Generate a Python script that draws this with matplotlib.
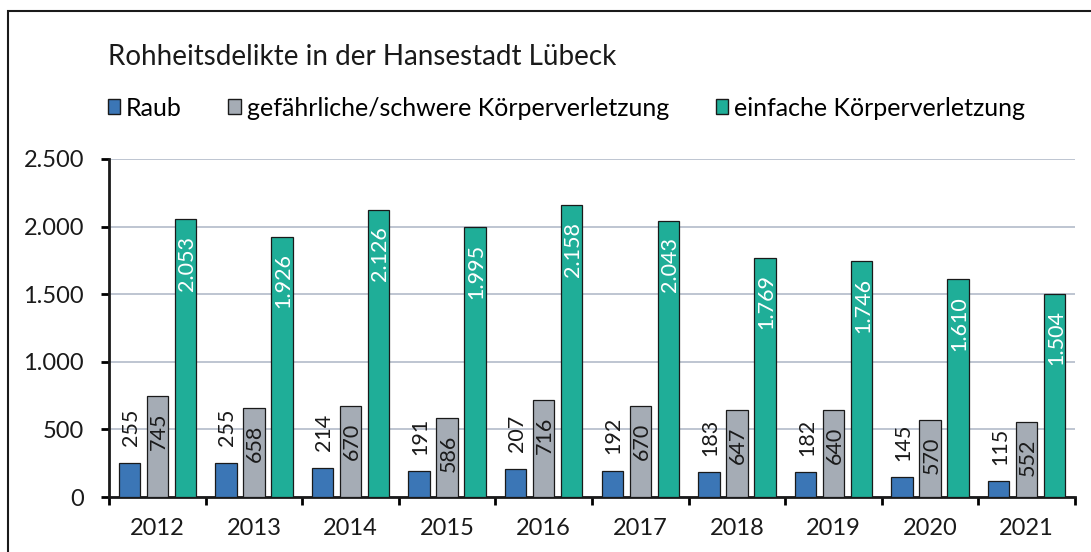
import matplotlib
matplotlib.use('Agg')
import matplotlib.pyplot as plt
import numpy as np
from matplotlib.patches import Rectangle
from matplotlib.ticker import FuncFormatter

years = ['2012', '2013', '2014', '2015', '2016', '2017', '2018', '2019', '2020', '2021']
raub = [255, 255, 214, 191, 207, 192, 183, 182, 145, 115]
koerper_schwer = [745, 658, 670, 586, 716, 670, 647, 640, 570, 552]
koerper_einfach = [2053, 1926, 2126, 1995, 2158, 2043, 1769, 1746, 1610, 1504]
series_names = ['Raub', 'gefährliche/schwere Körperverletzung', 'einfache Körperverletzung']

c_blue = '#3b76b6'
c_grey = '#a5acb5'
c_green = '#1fae98'

font = ['Lato', 'DejaVu Sans']


def de_fmt(v):
    return '{:,}'.format(int(v)).replace(',', '.')


fig = plt.figure(figsize=(10.91, 5.52), dpi=100)
ax = fig.add_axes([109/1091, 1-497/552, (1075-109)/1091, (497-159)/552])

x = np.arange(len(years))
w = 0.22
off = 0.29
ax.bar(x - off, raub, w, color=c_blue, edgecolor='#1a1a1a', linewidth=0.9, zorder=3)
ax.bar(x, koerper_schwer, w, color=c_grey, edgecolor='#1a1a1a', linewidth=0.9, zorder=3)
ax.bar(x + off, koerper_einfach, w, color=c_green, edgecolor='#1a1a1a', linewidth=0.9, zorder=3)

# value labels
lab_size = 15.5
for xi, v in zip(x - off, raub):
    ax.annotate(de_fmt(v), (xi, v), xytext=(1, 12), textcoords='offset points',
                rotation=90, ha='center', va='bottom', fontsize=lab_size,
                family=font, color='#1a1a1a', zorder=4)
for xi, v in zip(x, koerper_schwer):
    ax.annotate(de_fmt(v), (xi, v), xytext=(1, -12), textcoords='offset points',
                rotation=90, ha='center', va='top', fontsize=lab_size,
                family=font, color='#1a1a1a', zorder=4)
for xi, v in zip(x + off, koerper_einfach):
    ax.annotate(de_fmt(v), (xi, v), xytext=(1, -12), textcoords='offset points',
                rotation=90, ha='center', va='top', fontsize=lab_size,
                family=font, color='white', zorder=4)

ax.set_xlim(-0.5, len(years) - 0.5)
ax.set_ylim(0, 2500)
ax.set_yticks(np.arange(0, 2501, 500))
ax.yaxis.set_major_formatter(FuncFormatter(lambda v, p: de_fmt(v)))
ax.set_xticks(x)
ax.set_xticklabels(years)
ax.set_xticks(np.arange(-0.5, len(years)), minor=True)
ax.tick_params(axis='x', which='major', length=0, pad=15, labelsize=17)
ax.tick_params(axis='x', which='minor', length=6, width=2, direction='out')
ax.tick_params(axis='y', length=6, width=2, direction='out', pad=12, labelsize=17)
for lab in ax.get_xticklabels() + ax.get_yticklabels():
    lab.set_family(font)
    lab.set_color('#1a1a1a')

ax.grid(axis='y', color='#b3bbc9', linewidth=1.2, zorder=0)
for s in ['top', 'right']:
    ax.spines[s].set_visible(False)
for s in ['left', 'bottom']:
    ax.spines[s].set_linewidth(2)
    ax.spines[s].set_color('#1a1a1a')

fig.text(108/1091, 1-57/552, 'Rohheitsdelikte in der Hansestadt Lübeck', fontsize=20,
         family=font, va='center', ha='left', color='#1a1a1a')

handles = [Rectangle((0, 0), 1, 1, facecolor=c, edgecolor='#1a1a1a', linewidth=1)
           for c in (c_blue, c_grey, c_green)]
leg = fig.legend(handles, series_names, loc='center left', bbox_to_anchor=(100/1091, 1-108/552),
                 ncol=3, frameon=False, handlelength=0.5, handleheight=0.55, handletextpad=0.25,
                 columnspacing=1.85, borderaxespad=0, borderpad=0.3,
                 prop={'family': font, 'size': 18})

# outer frame of the chart area
fig.patches.append(Rectangle((8/1091, -0.1), 1.2, 1-11/552+0.1, transform=fig.transFigure,
                             fill=False, edgecolor='#1a1a1a', linewidth=1.5))

fig.savefig('out.png', dpi=100)
